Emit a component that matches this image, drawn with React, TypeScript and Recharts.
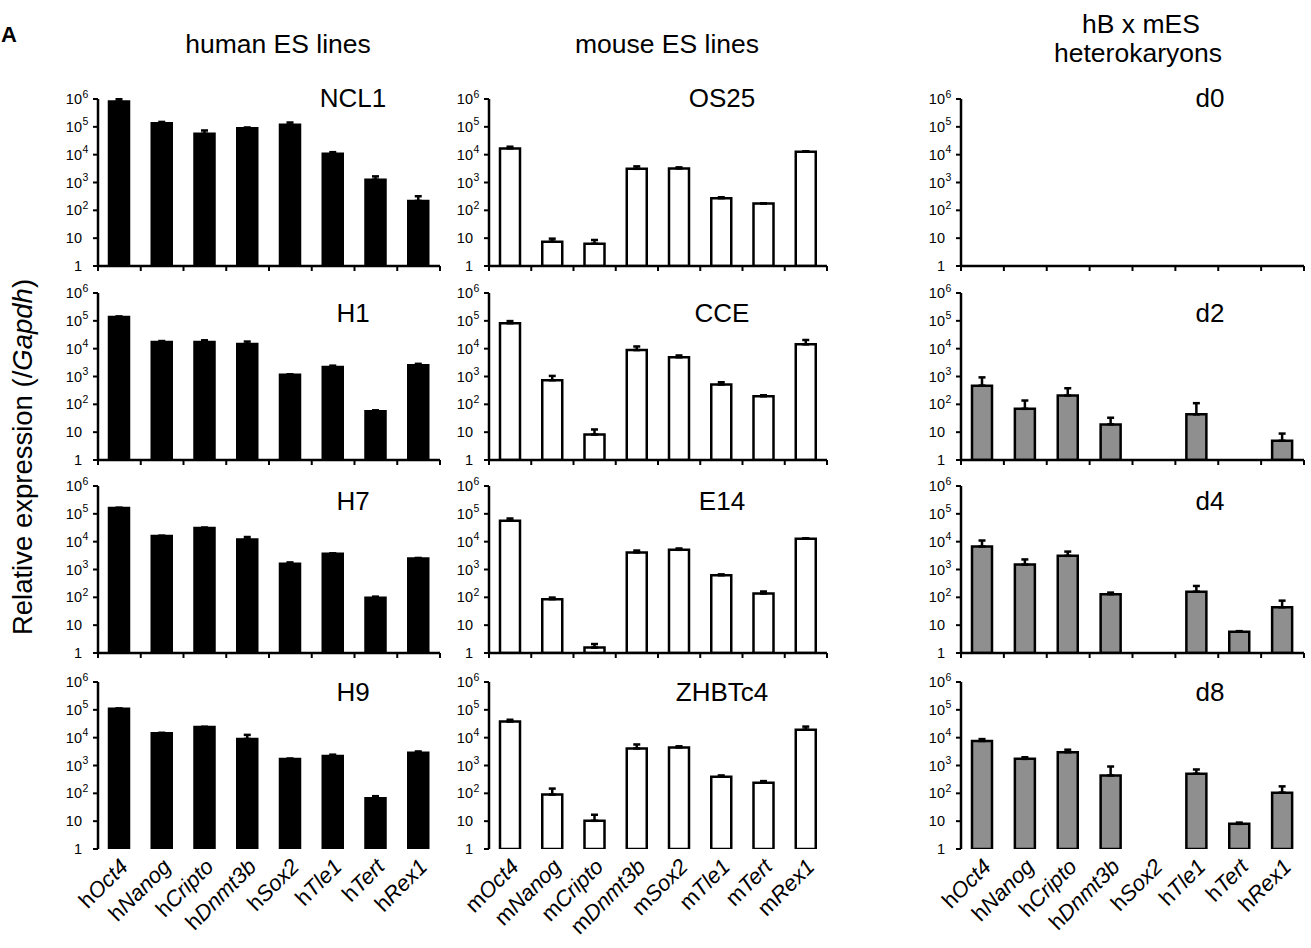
import React from 'react'
import { BarChart, Bar, XAxis, YAxis, ErrorBar } from 'recharts'

const FONT = '"Liberation Sans", Arial, Helvetica, sans-serif'

// gene names (prefix h/m is added per column, gene part is italic)
const GENES = ['Oct4', 'Nanog', 'Cripto', 'Dnmt3b', 'Sox2', 'Tle1', 'Tert', 'Rex1']
const Y_TICKS = [1, 10, 100, 1e3, 1e4, 1e5, 1e6]

// human ES lines (bar value, top of error bar)
const ncl1 = [8.1e5, 1.35e5, 5.6e4, 8.9e4, 1.18e5, 1.08e4, 1260, 218]
const ncl1Err = [9.8e5, 1.5e5, 7.4e4, 9.5e4, 1.43e5, 1.23e4, 1660, 321]
const h1 = [1.37e5, 1.73e4, 1.73e4, 1.47e4, 1150, 2200, 56, 2560]
const h1Err = [1.44e5, 1.88e4, 2.0e4, 1.8e4, 1200, 2450, 61, 2850]
const h7 = [1.62e5, 1.6e4, 3.1e4, 1.2e4, 1620, 3700, 97, 2500]
const h7Err = [1.65e5, 1.63e4, 3.2e4, 1.47e4, 1800, 3800, 106, 2600]
const h9 = [1.09e5, 1.43e4, 2.4e4, 9000, 1700, 2200, 67, 2860]
const h9Err = [1.12e5, 1.5e4, 2.45e4, 1.26e4, 1780, 2450, 79, 3200]

// mouse ES lines
const os25 = [1.68e4, 7.5, 6.3, 3100, 3200, 273, 176, 1.27e4]
const os25Err = [1.93e4, 9.6, 8.6, 3800, 3500, 295, 180, 1.33e4]
const cce = [8.2e4, 735, 8.2, 8900, 4900, 515, 195, 1.43e4]
const cceErr = [9.8e4, 1050, 12.5, 1.2e4, 5700, 623, 212, 2.05e4]
const e14 = [5.7e4, 86, 1.56, 4100, 5100, 620, 137, 1.28e4]
const e14Err = [6.8e4, 98, 2.1, 4800, 5700, 670, 162, 1.33e4]
const zhbtc4 = [3.8e4, 90, 10.3, 4100, 4450, 395, 240, 1.94e4]
const zhbtc4Err = [4.4e4, 148, 17, 5700, 4900, 440, 275, 2.5e4]

// hB x mES heterokaryons
const d0: (number | null)[] = [null, null, null, null, null, null, null, null]
const d0Err: (number | null)[] = [null, null, null, null, null, null, null, null]
const d2 = [470, 69, 207, 19, null, 43.6, null, 4.9]
const d2Err = [930, 137, 378, 33, null, 110, null, 8.9]
const d4 = [6700, 1500, 3100, 130, null, 160, 5.8, 44]
const d4Err = [1.1e4, 2300, 4400, 148, null, 256, 6.1, 76]
const d8 = [7600, 1730, 3000, 440, null, 505, 8.0, 106]
const d8Err = [8900, 1980, 3700, 920, null, 720, 8.9, 178]

const COLUMNS = [
  { prefix: 'h', fill: '#000000', names: ['NCL1', 'H1', 'H7', 'H9'], vals: [ncl1, h1, h7, h9], errs: [ncl1Err, h1Err, h7Err, h9Err] },
  { prefix: 'm', fill: '#ffffff', names: ['OS25', 'CCE', 'E14', 'ZHBTc4'], vals: [os25, cce, e14, zhbtc4], errs: [os25Err, cceErr, e14Err, zhbtc4Err] },
  { prefix: 'h', fill: '#8f8f8f', names: ['d0', 'd2', 'd4', 'd8'], vals: [d0, d2, d4, d8], errs: [d0Err, d2Err, d4Err, d8Err] },
]

// layout (plot area positions on the page)
const COL_X = [98, 489, 961]
const COL_W = [342, 338, 343]
const ROW_Y = [99, 293, 486, 682]
const PLOT_H = 167
const Y_W = 60
const NAME_DX = [255, 233, 249]
const NAME_Y = [107, 322, 510, 701]

const errOf = (d: any) => (d.value == null || d.top == null ? null : [0, d.top - d.value])

function YTick(props: any) {
  const { x, y, payload } = props
  const v = payload.value as number
  const exp = Math.round(Math.log10(v))
  if (exp < 2) {
    return (
      <text x={x - 9} y={y} dy={5} textAnchor="end" fontSize={14.5} fontFamily={FONT} fill="#000">
        {String(v)}
      </text>
    )
  }
  return (
    <g>
      <text x={x - 9} y={y} dy={5} textAnchor="end" fontSize={14.5} fontFamily={FONT} fill="#000">
        10
      </text>
      <text x={x - 8.5} y={y} dy={-1.5} textAnchor="start" fontSize={10.5} fontFamily={FONT} fill="#000">
        {exp}
      </text>
    </g>
  )
}

function GeneTick(props: any) {
  const { x, y, payload, prefix } = props
  const ax = x + 10
  const ay = y + 11
  return (
    <text x={ax} y={ay} transform={`rotate(-45 ${ax} ${ay})`} textAnchor="end" fontSize={22} fontFamily={FONT} fill="#000">
      {prefix}
      <tspan fontStyle="italic">{payload.value}</tspan>
    </text>
  )
}

const noTick = () => <g />

function Panel({ col, row }: { col: number; row: number }) {
  const c = COLUMNS[col]
  const values = c.vals[row]
  const tops = c.errs[row]
  const labels = row === 3
  const data = GENES.map((g, i) => ({ gene: g, pos: i + 0.5, value: values[i], top: tops[i] }))
  const margin = { top: 10, right: 10, left: 0, bottom: labels ? 0 : 10 }
  const posH = 6
  const geneH = labels ? 110 : 0
  const width = Y_W + COL_W[col] + margin.right
  const height = margin.top + PLOT_H + posH + geneH + margin.bottom
  return (
    <div style={{ position: 'absolute', left: COL_X[col] - Y_W - margin.left, top: ROW_Y[row] - margin.top }}>
      <BarChart width={width} height={height} data={data} margin={margin} barSize={20}>
        <XAxis
          xAxisId="pos"
          dataKey="pos"
          type="number"
          domain={[0, 8]}
          ticks={[0, 1, 2, 3, 4, 5, 6, 7, 8]}
          interval={0}
          allowDataOverflow
          height={posH}
          tickSize={5}
          tick={noTick}
          axisLine={{ stroke: '#000', strokeWidth: 2.5 }}
          tickLine={{ stroke: '#000', strokeWidth: 2 }}
        />
        <XAxis
          xAxisId="gene"
          dataKey="gene"
          type="category"
          hide={!labels}
          height={geneH}
          axisLine={false}
          tickLine={false}
          interval={0}
          tick={(p: any) => <GeneTick {...p} prefix={c.prefix} />}
        />
        <YAxis
          type="number"
          scale="log"
          domain={[1, 1e6]}
          ticks={Y_TICKS}
          interval={0}
          allowDataOverflow
          width={Y_W}
          tickSize={5}
          tick={YTick}
          axisLine={{ stroke: '#000', strokeWidth: 2.5 }}
          tickLine={{ stroke: '#000', strokeWidth: 2 }}
        />
        <Bar xAxisId="pos" dataKey="value" fill={c.fill} stroke="#000" strokeWidth={2.5} isAnimationActive={false}>
          <ErrorBar dataKey={errOf} direction="y" width={3.5} stroke="#000" strokeWidth={2.5} isAnimationActive={false} />
        </Bar>
      </BarChart>
    </div>
  )
}

export default function App() {
  return (
    <div style={{ position: 'absolute', left: 0, top: 0, width: 1311, height: 948, background: '#fff', overflow: 'hidden' }}>
      {COLUMNS.map((_, ci) => ROW_Y.map((_, ri) => <Panel key={`${ci}-${ri}`} col={ci} row={ri} />))}
      <svg width={1311} height={948} style={{ position: 'absolute', left: 0, top: 0, pointerEvents: 'none' }} fontFamily={FONT}>
        <text x={1} y={42} textAnchor="start" fontSize={22} fontWeight="bold">A</text>
        <text x={278} y={53} textAnchor="middle" fontSize={26.5}>human ES lines</text>
        <text x={667} y={53} textAnchor="middle" fontSize={26.5}>mouse ES lines</text>
        <text x={1141} y={33} textAnchor="middle" fontSize={26.5}>hB x mES</text>
        <text x={1138} y={62} textAnchor="middle" fontSize={26.5}>heterokaryons</text>
        {COLUMNS.map((c, ci) =>
          c.names.map((n, ri) => (
            <text key={n} x={COL_X[ci] + NAME_DX[ci]} y={NAME_Y[ri]} textAnchor="middle" fontSize={26}>
              {n}
            </text>
          ))
        )}
        <text x={32} y={457} transform="rotate(-90 32 457)" textAnchor="middle" fontSize={27.5}>
          Relative expression (/<tspan fontStyle="italic">Gapdh</tspan>)
        </text>
      </svg>
    </div>
  )
}
